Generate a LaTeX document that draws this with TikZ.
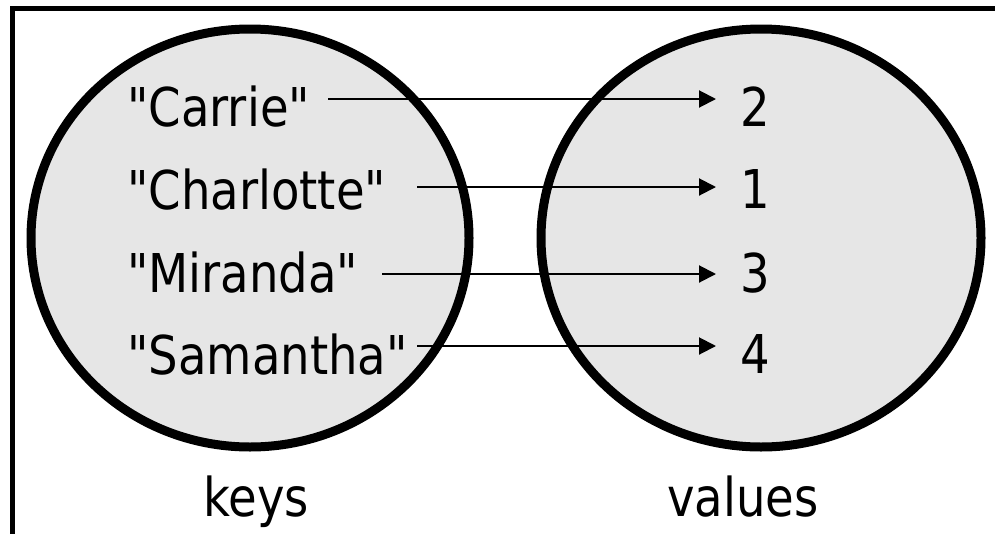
\documentclass[tikz,border=0pt]{standalone}
\usepackage{fontspec}
% a family of its own, so that " stays a straight quote
\newfontfamily\labelfont{DejaVu Sans}[FakeStretch=0.87]
\usetikzlibrary{arrows.meta}
\definecolor{setfill}{HTML}{E6E6E6}
\tikzset{
  setshape/.style={draw=black, fill=setfill, line width=9pt},
  item/.style={anchor=base west, inner sep=0pt, font=\labelfont\fontsize{53.5}{60}\selectfont},
  caption/.style={anchor=base, inner sep=0pt, font=\labelfont\fontsize{53.5}{60}\selectfont},
  maparrow/.style={line width=2pt, -{Triangle[length=17pt,width=17pt]}},
  frame/.style={draw=black, line width=4.5pt}
}
\begin{document}
\begin{tikzpicture}[x=1pt, y=-1pt]
  \useasboundingbox (0,0) rectangle (995,533);
  % outer frame (only its top and left sides fall inside the page)
  \draw[frame] (12.5,8.5) rectangle (1010,560);
  % the two sets
  \draw[setshape] (250,238) ellipse [x radius=219, y radius=209];
  \draw[setshape] (761,238) ellipse [x radius=220, y radius=209];
  % keys
  \node[item] (k1) at (127,126) {"Carrie"};
  \node[item] (k2) at (127,209) {"Charlotte"};
  \node[item] (k3) at (127,292) {"Miranda"};
  \node[item] (k4) at (127,374) {"Samantha"};
  % values
  \node[item] (v1) at (740,126) {2};
  \node[item] (v2) at (740,208) {1};
  \node[item] (v3) at (740,292) {3};
  \node[item] (v4) at (740,373) {4};
  % captions
  \node[caption] (keys) at (256,516) {keys};
  \node[caption] (vals) at (743,516) {values};
  % arrow end points
  \coordinate (a1) at (328,99);  \coordinate (b1) at (716,99);
  \coordinate (a2) at (417,187); \coordinate (b2) at (716,187);
  \coordinate (a3) at (382,274); \coordinate (b3) at (716,274);
  \coordinate (a4) at (417,346); \coordinate (b4) at (716,346);
  \foreach \i in {1,...,4} {
    \draw[maparrow] (a\i) -- (b\i);
  }
\end{tikzpicture}
\end{document}
